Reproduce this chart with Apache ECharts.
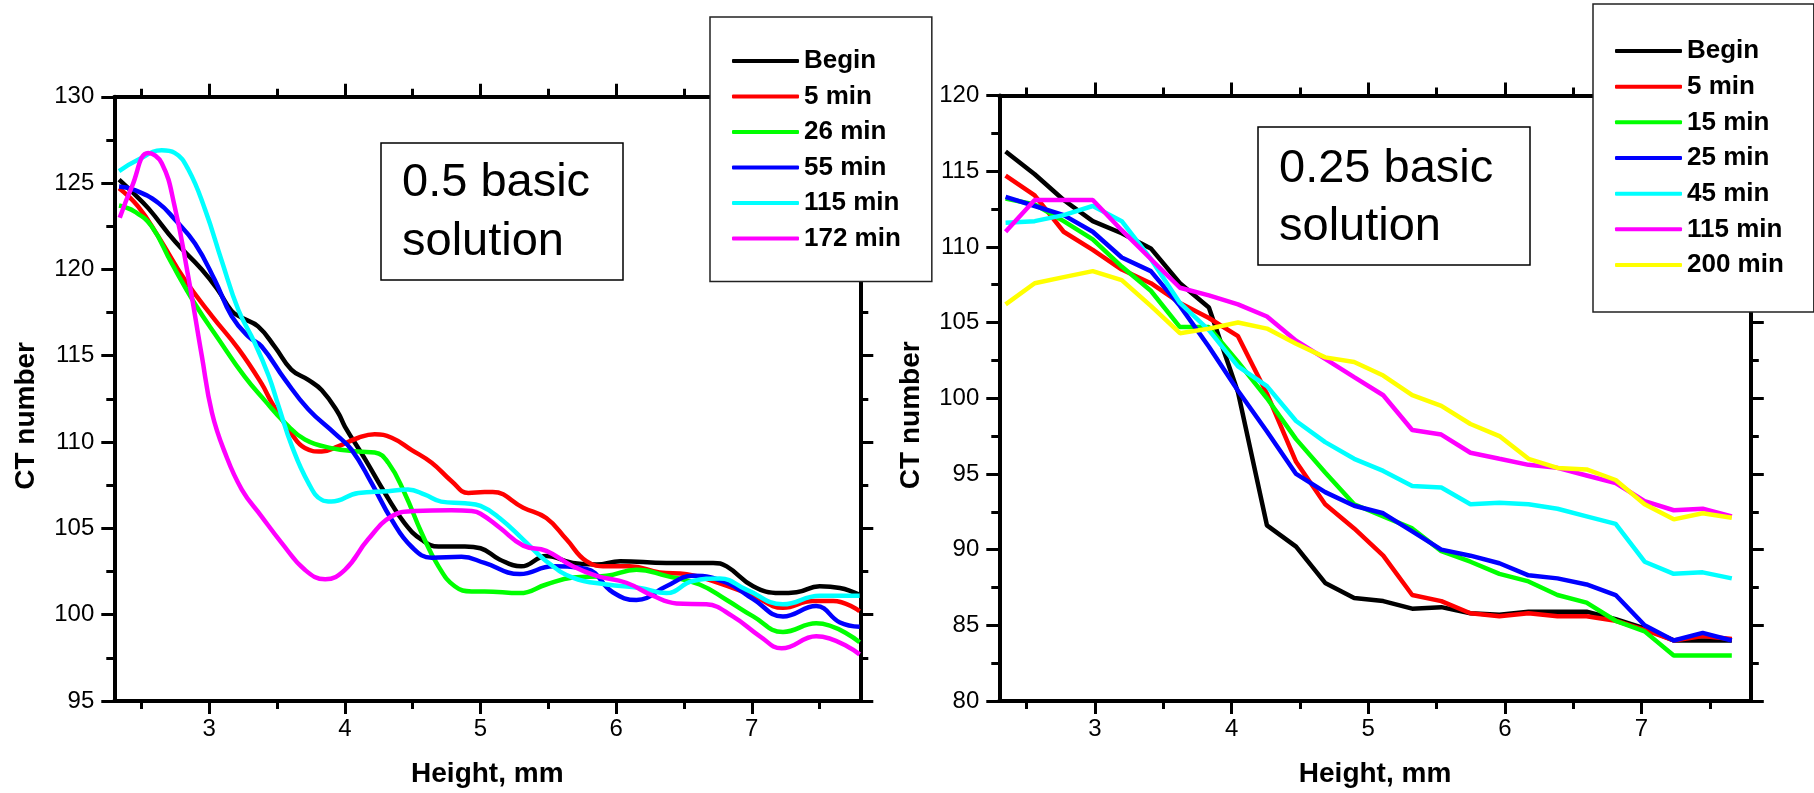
<!DOCTYPE html>
<html>
<head>
<meta charset="utf-8">
<title>CT number vs height</title>
<script src="https://cdn.jsdelivr.net/npm/echarts@6/dist/echarts.min.js"></script>
<style>
  html, body { margin: 0; padding: 0; background: #fff; }
  #chart { width: 1814px; height: 793px; }
</style>
</head>
<body>
<div id="chart"></div>
<script>
// left panel: 0.5 basic solution, points are [height mm, CT number]
const leftBegin = [[2.335,125.2],[2.43,124.5],[2.55,123.55],[2.75,121.6],[2.945,120.0],[3.065,118.8],[3.165,117.6],[3.24,117.2],[3.36,116.7],[3.485,115.5],[3.605,114.2],[3.73,113.6],[3.83,113.0],[3.95,111.7],[4.0,110.9],[4.15,109.0],[4.295,107.05],[4.44,105.3],[4.565,104.35],[4.69,103.95],[4.885,103.95],[5.0,103.85],[5.14,103.2],[5.3,102.8],[5.485,103.4],[5.68,103.0],[5.855,102.9],[6.03,103.1],[6.37,103.0],[6.715,103.0],[6.815,102.8],[7.01,101.65],[7.205,101.25],[7.33,101.3],[7.5,101.65],[7.65,101.55],[7.795,101.15]];
const left5 = [[2.335,124.7],[2.475,123.65],[2.625,121.9],[2.82,119.4],[3.02,117.3],[3.215,115.4],[3.385,113.4],[3.46,112.3],[3.605,110.5],[3.705,109.65],[3.83,109.45],[3.95,109.75],[4.1,110.25],[4.22,110.45],[4.345,110.25],[4.49,109.55],[4.64,108.8],[4.785,107.75],[4.91,107.05],[5.03,107.1],[5.09,107.1],[5.315,106.2],[5.485,105.6],[5.635,104.35],[5.78,103.1],[5.93,102.8],[6.1,102.8],[6.32,102.45],[6.52,102.35],[6.715,101.95],[7.01,101.1],[7.23,100.4],[7.45,100.8],[7.6,100.8],[7.795,100.2]];
const left26 = [[2.335,123.7],[2.45,123.35],[2.575,122.5],[2.72,120.4],[2.895,118.0],[3.065,116.0],[3.26,113.8],[3.41,112.4],[3.56,111.1],[3.705,110.15],[3.9,109.65],[4.1,109.45],[4.22,109.4],[4.32,108.8],[4.44,107.05],[4.565,104.75],[4.69,102.8],[4.81,101.65],[4.935,101.35],[5.03,101.35],[5.29,101.25],[5.485,101.75],[5.68,102.15],[5.93,102.25],[6.15,102.6],[6.37,102.25],[6.615,101.75],[6.815,100.85],[7.01,99.9],[7.23,99.0],[7.475,99.5],[7.795,98.4]];
const left55 = [[2.335,124.8],[2.45,124.6],[2.625,123.85],[2.745,122.9],[2.895,121.5],[3.04,119.4],[3.165,117.3],[3.29,116.1],[3.385,115.55],[3.56,113.6],[3.73,111.9],[3.925,110.5],[4.05,109.55],[4.195,107.65],[4.345,105.5],[4.49,103.95],[4.64,103.3],[4.86,103.35],[5.03,103.0],[5.29,102.35],[5.535,102.8],[5.78,102.65],[5.975,101.3],[6.15,100.85],[6.37,101.65],[6.565,102.25],[6.815,101.85],[7.01,100.9],[7.23,99.9],[7.475,100.5],[7.65,99.55],[7.795,99.3]];
const left115 = [[2.335,125.7],[2.475,126.35],[2.65,126.9],[2.745,126.75],[2.845,125.8],[2.97,123.45],[3.09,120.55],[3.215,117.65],[3.335,115.75],[3.44,113.8],[3.51,112.1],[3.61,109.75],[3.73,107.65],[3.83,106.65],[3.9,106.55],[4.1,107.05],[4.32,107.15],[4.465,107.25],[4.59,106.95],[4.71,106.55],[4.885,106.45],[5.0,106.3],[5.14,105.6],[5.315,104.35],[5.485,103.1],[5.68,102.15],[5.93,101.75],[6.175,101.55],[6.37,101.25],[6.565,101.95],[6.765,102.1],[6.96,101.45],[7.23,100.6],[7.5,101.1],[7.795,101.1]];
const left172 = [[2.34,123.0],[2.43,124.8],[2.55,126.75],[2.65,126.15],[2.745,123.65],[2.845,119.6],[2.945,115.0],[3.02,111.7],[3.115,109.4],[3.24,107.25],[3.385,105.7],[3.535,104.15],[3.705,102.6],[3.855,102.05],[4.0,102.6],[4.17,104.35],[4.345,105.7],[4.515,106.0],[4.785,106.05],[4.935,106.0],[5.0,105.85],[5.14,105.05],[5.315,104.0],[5.485,103.7],[5.68,102.8],[5.855,102.25],[6.075,101.85],[6.27,101.1],[6.445,100.65],[6.665,100.6],[6.86,99.9],[7.06,98.75],[7.22,98.05],[7.475,98.75],[7.795,97.7]];

// right panel: 0.25 basic solution, one CT number per height step
const rightHeights = [2.346,2.559,2.771,2.984,3.196,3.409,3.622,3.834,4.047,4.259,4.472,4.685,4.897,5.11,5.322,5.535,5.748,5.96,6.173,6.385,6.598,6.811,7.023,7.236,7.448,7.661];
const rightBegin = [116.3,114.8,113.1,111.7,110.9,109.9,107.6,106.0,100.4,91.6,90.2,87.8,86.8,86.6,86.1,86.2,85.8,85.7,85.9,85.9,85.9,85.4,84.8,84.0,84.0,84.0];
const right5 = [114.7,113.4,111.0,109.8,108.5,107.6,106.3,105.3,104.1,100.3,95.8,93.0,91.4,89.6,87.0,86.6,85.8,85.6,85.8,85.6,85.6,85.3,84.7,84.0,84.3,84.1];
const right15 = [113.2,112.8,111.7,110.5,108.7,107.1,104.7,104.7,102.4,100.0,97.3,95.1,93.0,92.2,91.4,89.9,89.2,88.4,87.9,87.0,86.5,85.3,84.6,83.0,83.0,83.0];
const right25 = [113.3,112.7,112.1,111.0,109.3,108.4,106.1,103.4,100.5,97.8,95.0,93.8,92.9,92.4,91.2,90.0,89.6,89.1,88.3,88.1,87.7,87.0,85.0,84.0,84.5,84.0];
const right45 = [111.6,111.7,112.1,112.7,111.7,109.2,106.3,104.5,102.1,100.8,98.5,97.1,96.0,95.2,94.2,94.1,93.0,93.1,93.0,92.7,92.2,91.7,89.2,88.4,88.5,88.1];
const right115 = [111.0,113.1,113.1,113.1,111.1,109.2,107.3,106.8,106.2,105.4,103.8,102.6,101.4,100.2,97.9,97.6,96.4,96.0,95.6,95.4,94.9,94.4,93.2,92.6,92.7,92.2];
const right200 = [106.2,107.6,108.0,108.4,107.8,106.1,104.3,104.6,105.0,104.6,103.6,102.7,102.4,101.5,100.2,99.5,98.3,97.5,96.0,95.4,95.3,94.6,93.0,92.0,92.4,92.1];

const leftNames = ['Begin', '5 min', '26 min', '55 min', '115 min', '172 min'];
const rightNames = ['Begin', '5 min', '15 min', '25 min', '45 min', '115 min', '200 min'];
const heightTicks = [3, 4, 5, 6, 7];
const heightMinorTicks = [2.5, 3.5, 4.5, 5.5, 6.5, 7.5];

const colors = ['#000000', '#ff0000', '#00ff00', '#0000ff', '#00ffff', '#ff00ff', '#ffff00'];
const leftColors = ['#000000', '#ff0000', '#00ff00', '#0000ff', '#00ffff', '#ff00ff'];
const font = 'Liberation Sans';
const black = { color: '#000', width: 3 };
const nameStyle = { fontFamily: font, fontWeight: 'bold', fontSize: 28, color: '#000' };

// four x axes per panel: bottom major/minor ticks, top major/minor ticks
const heightAxes = gridIndex => {
  const base = {
    type: 'value',
    gridIndex,
    min: 2.3,
    max: 7.8,
    splitLine: { show: false },
    axisLine: { show: true, onZero: false, lineStyle: { color: '#000', width: 4 } },
    axisLabel: { show: false }
  };
  const minor = { customValues: heightMinorTicks, length: 8, lineStyle: black };
  const major = { customValues: heightTicks, length: 13, lineStyle: black };
  return [
    {
      ...base,
      position: 'bottom',
      axisTick: major,
      axisLabel: {
        customValues: heightTicks,
        margin: 16,
        fontSize: 24,
        fontFamily: font,
        color: '#000'
      },
      name: 'Height, mm',
      nameLocation: 'middle',
      nameGap: 59,
      nameTextStyle: nameStyle
    },
    { ...base, position: 'bottom', axisLine: { show: false }, axisTick: minor },
    { ...base, position: 'top', axisTick: major },
    { ...base, position: 'top', axisLine: { show: false }, axisTick: minor }
  ];
};

const ctAxes = (gridIndex, min, max) => {
  const base = {
    type: 'value',
    gridIndex,
    min,
    max,
    interval: 5,
    splitLine: { show: false },
    axisLine: { show: true, onZero: false, lineStyle: { color: '#000', width: 4 } },
    axisTick: { show: true, length: 13, lineStyle: black },
    minorTick: { show: true, splitNumber: 2, length: 8, lineStyle: black }
  };
  return [
    {
      ...base,
      position: 'left',
      axisLabel: { margin: 20, fontSize: 24, fontFamily: font, color: '#000' },
      name: 'CT number',
      nameLocation: 'middle',
      nameGap: 74,
      // the name sits a little below the middle of the axis
      nameTextStyle: { ...nameStyle, padding: [0, 34, 0, 0] }
    },
    { ...base, position: 'right', axisLabel: { show: false } }
  ];
};

const legendBox = (names, prefix, left, top, padding, itemGap) => ({
  data: names.map(n => prefix + n),
  formatter: n => n.slice(prefix.length),
  orient: 'vertical',
  left,
  top,
  padding,
  itemGap,
  icon: 'roundRect',
  itemWidth: 67,
  itemHeight: 4,
  itemStyle: { borderWidth: 0 },
  selectedMode: false,
  backgroundColor: '#fff',
  borderColor: '#222',
  borderWidth: 1.5,
  textStyle: { fontFamily: font, fontWeight: 'bold', fontSize: 26, lineHeight: 26, color: '#000' }
});

const noteBox = (text, left, top, padding, lineHeight) => ({
  text,
  left,
  top,
  padding,
  borderColor: '#000',
  borderWidth: 1.5,
  textStyle: { fontFamily: font, fontWeight: 'normal', fontSize: 47, lineHeight, color: '#000' }
});

const leftData = [leftBegin, left5, left26, left55, left115, left172];
const rightData = [rightBegin, right5, right15, right25, right45, right115, right200];

const leftSeries = leftData.map((d, i) => ({
  type: 'line',
  name: 'a:' + leftNames[i],
  xAxisIndex: 0,
  yAxisIndex: 0,
  data: d,
  smooth: 0.45,
  symbol: 'none',
  lineStyle: { color: leftColors[i], width: 4.5 },
  itemStyle: { color: leftColors[i] }
}));

const rightSeries = rightData.map((ys, i) => ({
  type: 'line',
  name: 'b:' + rightNames[i],
  xAxisIndex: 4,
  yAxisIndex: 2,
  data: rightHeights.map((h, j) => [h, ys[j]]),
  symbol: 'none',
  lineStyle: { color: colors[i], width: 4.5 },
  itemStyle: { color: colors[i] }
}));

const chart = echarts.init(document.getElementById('chart'));
chart.setOption({
  animation: false,
  backgroundColor: '#fff',
  grid: [
    { left: 114.3, top: 96.8, width: 746, height: 604.9 },
    { left: 999.3, top: 95.5, width: 751.5, height: 606 }
  ],
  xAxis: [...heightAxes(0), ...heightAxes(1)],
  yAxis: [...ctAxes(0, 95, 130), ...ctAxes(1, 80, 120)],
  title: [
    noteBox('0.5 basic\nsolution', 381, 143, [11, 33, 8, 21], 59),
    noteBox('0.25 basic\nsolution', 1258, 127, [13, 37, 9, 21], 58)
  ],
  legend: [
    legendBox(leftNames, 'a:', 710, 17, [31, 31, 30, 22], 9.5),
    legendBox(rightNames, 'b:', 1593, 4, [34, 30, 34, 22], 9.67)
  ],
  series: [...leftSeries, ...rightSeries]
});
</script>
</body>
</html>
